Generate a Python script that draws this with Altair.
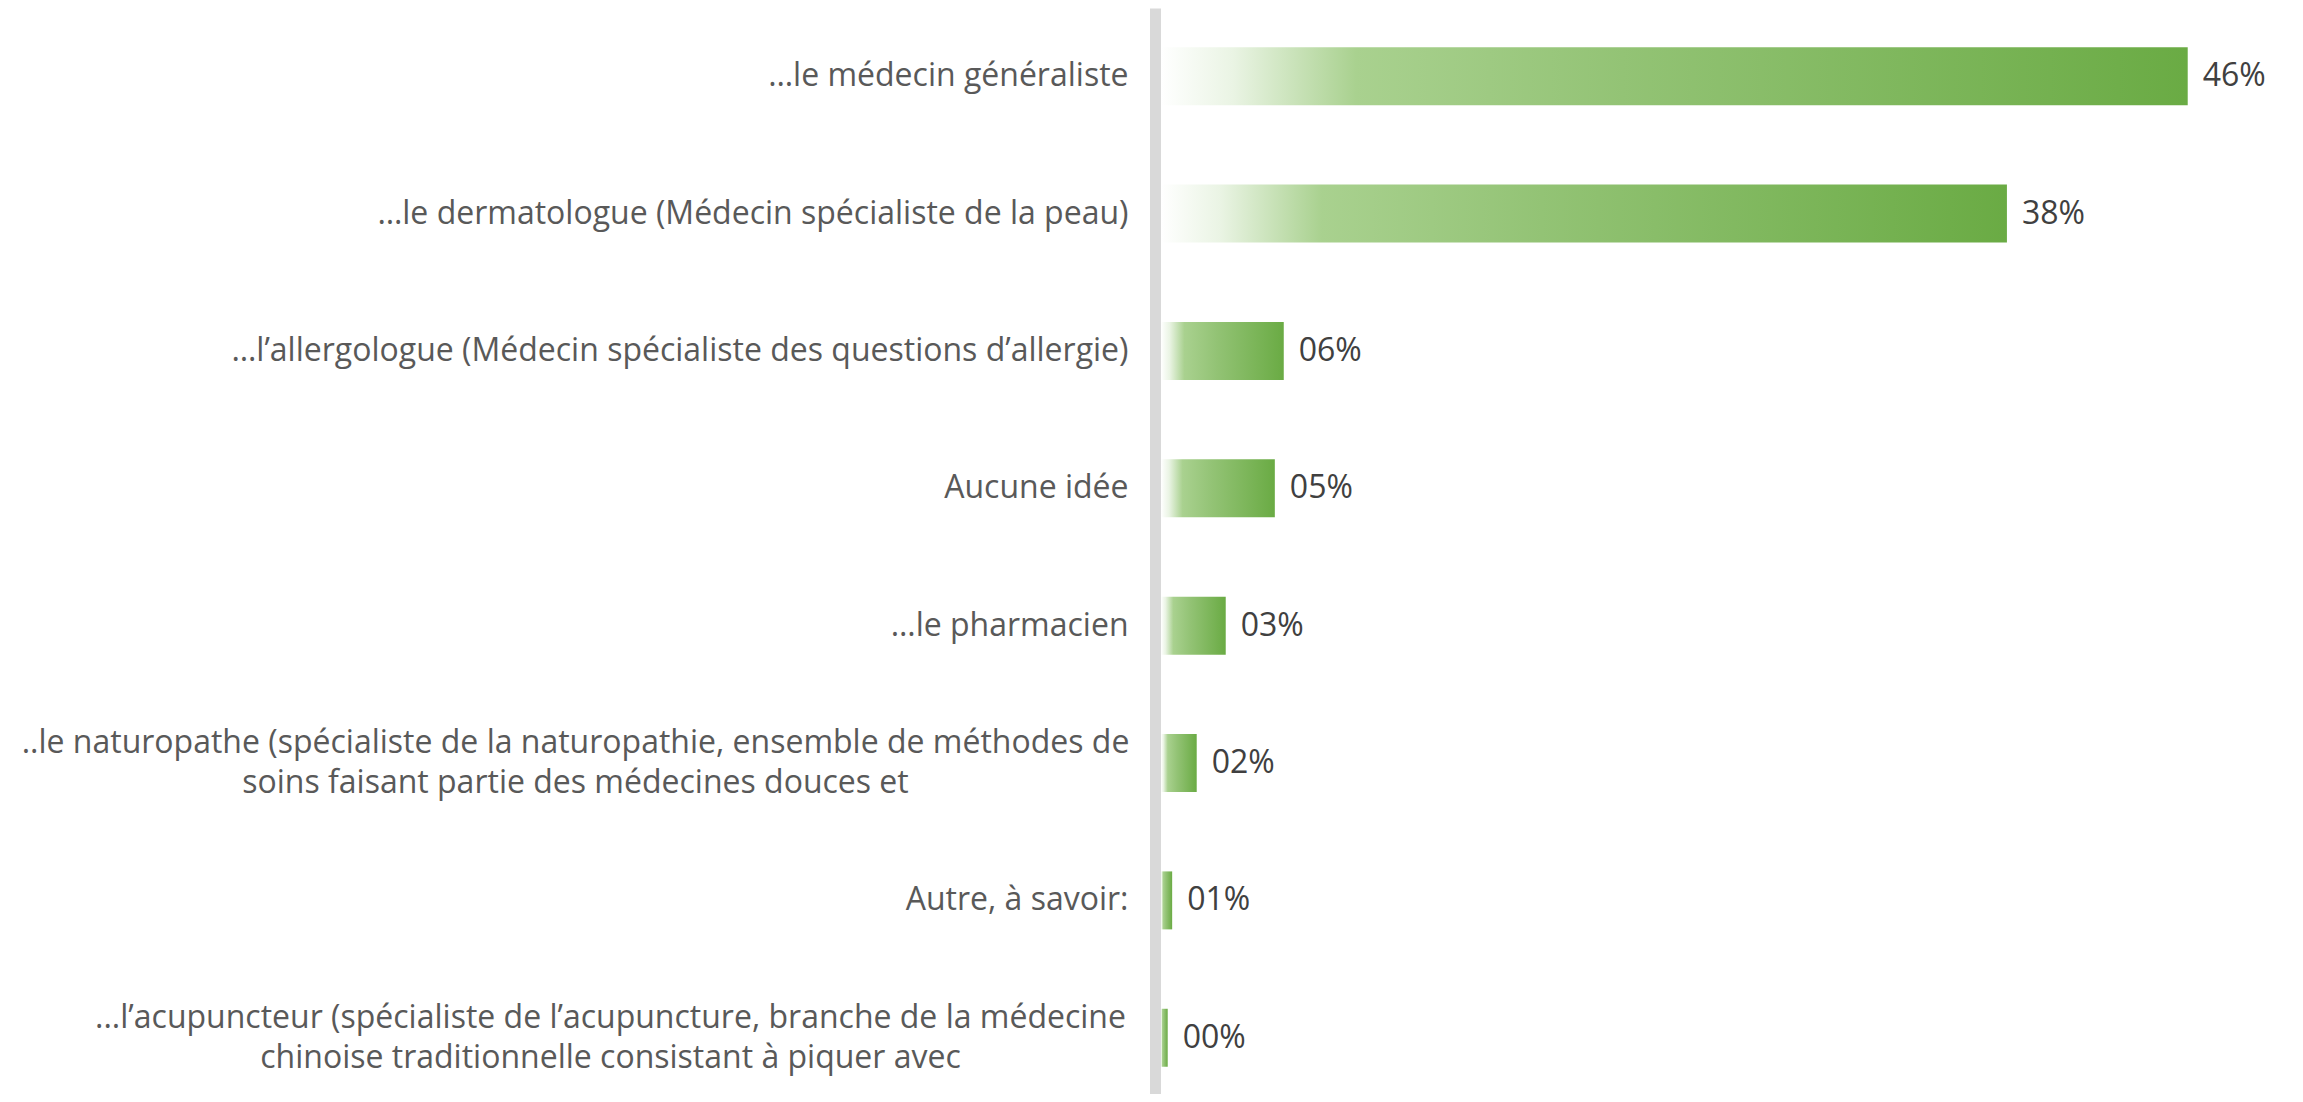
import altair as alt
import pandas as pd

categories = [
    "…le médecin généraliste",
    "…le dermatologue (Médecin spécialiste de la peau)",
    "…l’allergologue (Médecin spécialiste des questions d’allergie)",
    "Aucune idée",
    "…le pharmacien",
    "..le naturopathe (spécialiste de la naturopathie, ensemble de méthodes de|soins faisant partie des médecines douces et",
    "Autre, à savoir:",
    "...l’acupuncteur (spécialiste de l’acupuncture, branche de la médecine|chinoise traditionnelle consistant à piquer avec",
]
values = [46.0, 37.9, 5.5, 5.1, 2.9, 1.6, 0.5, 0.3]

df = pd.DataFrame({"cat": categories, "value": values})

gradient = alt.Gradient(
    gradient="linear",
    x1=0, x2=1, y1=0, y2=0,
    stops=[
        alt.GradientStop(color="#ffffff", offset=0),
        alt.GradientStop(color="#eaf4e4", offset=0.07),
        alt.GradientStop(color="#a9d18f", offset=0.19),
        alt.GradientStop(color="#93c375", offset=0.45),
        alt.GradientStop(color="#6aab44", offset=1),
    ],
)

multi = "indexof(datum.value, '|') >= 0"

y_enc = alt.Y(
    "cat:N",
    sort=None,
    title=None,
    scale=alt.Scale(paddingInner=0.578, paddingOuter=0.242, align=0.59),
    axis=alt.Axis(
        domain=True,
        domainColor="#d9d9d9",
        domainWidth=11,
        offset=6,
        ticks=False,
        tickSize=0,
        grid=False,
        labelPadding={
            "condition": [
                {"test": "indexof(datum.value, 'naturopathe') >= 0", "value": 580},
                {"test": "indexof(datum.value, 'acupuncteur') >= 0", "value": 545},
            ],
            "value": 27,
        },
        labelOffset={"condition": {"test": multi, "value": -20}, "value": 0},
        labelFont="Open Sans",
        labelFontSize=32,
        labelColor="#595959",
        labelLimit=1200,
        labelAlign={"condition": {"test": multi, "value": "center"}, "value": "right"},
        labelBaseline="middle",
        labelLineHeight=40,
        labelExpr="split(datum.label, '|')",
    ),
)

x_enc = alt.X(
    "value:Q",
    axis=None,
    scale=alt.Scale(domain=[0, 50], nice=False, zero=True),
)

bars = alt.Chart(df).mark_bar(color=gradient).encode(y=y_enc, x=x_enc)

labels = (
    alt.Chart(df)
    .transform_calculate(lbl="format(datum.value, '02.0f') + '%'")
    .mark_text(align="left", baseline="middle", dx=15, font="Open Sans", fontSize=32, color="#404040")
    .encode(y=alt.Y("cat:N", sort=None), x=x_enc, text="lbl:N")
)

chart = (
    alt.layer(bars, labels)
    .properties(
        width=1116,
        height=1086,
        autosize=alt.AutoSizeParams(type="none"),
        padding={"left": 1153, "top": 0, "right": 10, "bottom": 0},
        background="white",
    )
    .configure_view(stroke=None)
)

chart.save("out.html", embed_options={"renderer": "svg", "actions": False})
